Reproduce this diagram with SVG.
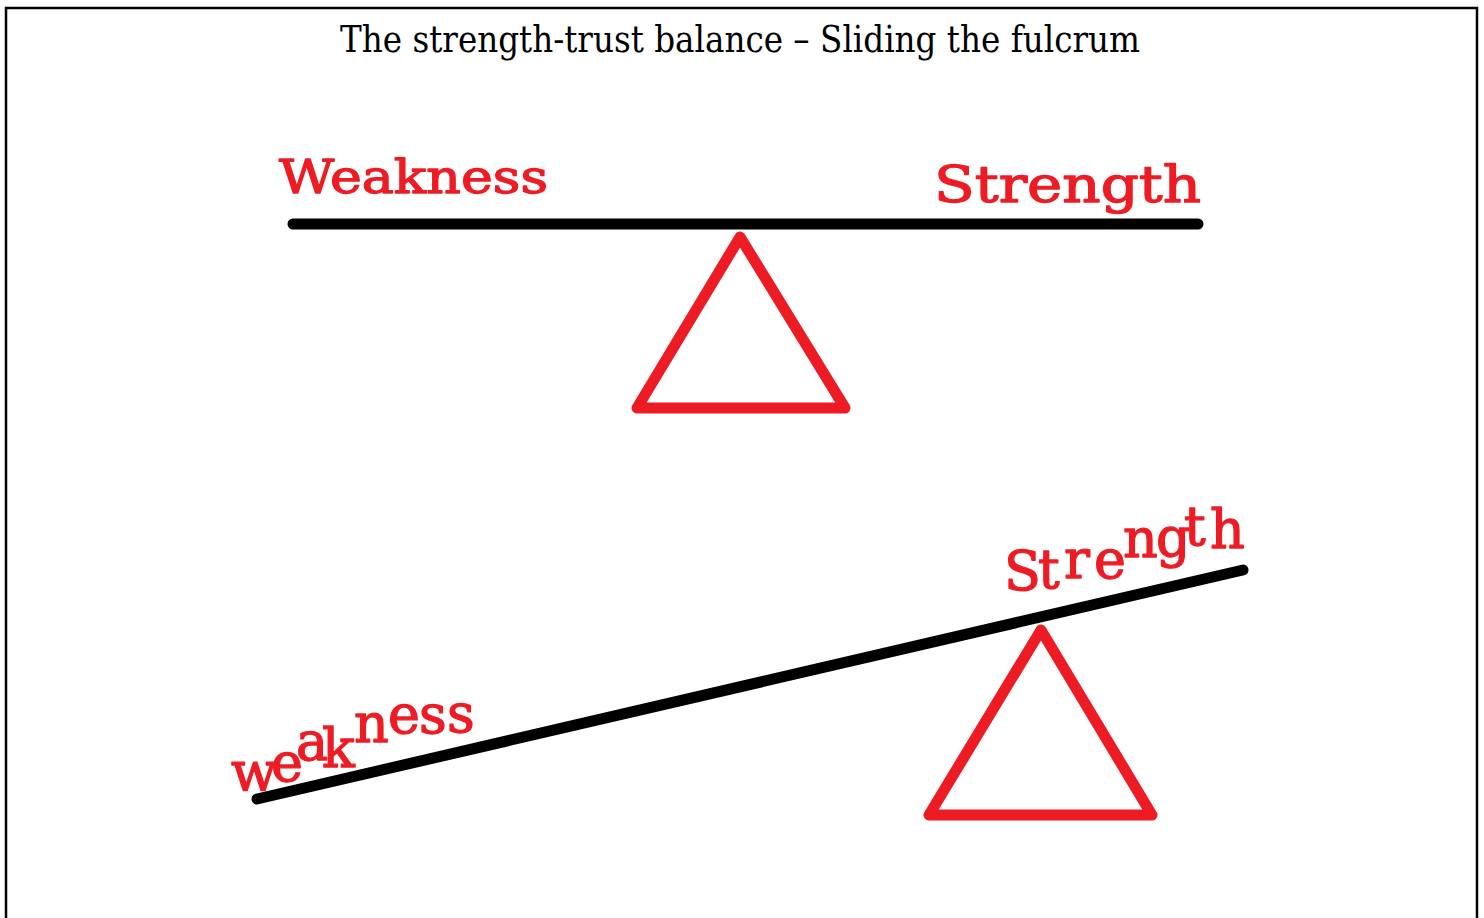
<svg xmlns="http://www.w3.org/2000/svg" width="1484" height="918" viewBox="0 0 1484 918">
<style>
.title{font-family:"DejaVu Serif","Liberation Serif",serif;font-size:37px;fill:#000}
.lbl{font-family:"DejaVu Serif","Liberation Serif",serif;fill:#ed1c24;stroke:#ed1c24;stroke-width:1.3;stroke-linejoin:round}
.beam{stroke:#000;stroke-width:11;stroke-linecap:round;fill:none}
.fulcrum{stroke:#ed1c24;stroke-width:11;stroke-linejoin:round;fill:none}
</style>
<rect x="0" y="0" width="1484" height="918" fill="#fff"/>
<rect x="6" y="8" width="1471" height="930" fill="none" stroke="#000" stroke-width="2.5"/>
<text class="title" x="740" y="52" text-anchor="middle" textLength="800" lengthAdjust="spacingAndGlyphs">The strength-trust balance – Sliding the fulcrum</text>

<g id="connectors">
<line class="beam" x1="293" y1="224" x2="1198" y2="224"/>
<line class="beam" x1="257" y1="799" x2="1243" y2="570"/>
</g>

<g id="fulcrum-top"><polygon class="fulcrum" points="637,408 845,408 740,237"/></g>
<g id="fulcrum-bottom"><polygon class="fulcrum" points="929,815 1152,815 1041,630"/></g>

<g id="label-weakness-top"><text class="lbl" x="279" y="193" font-size="46" textLength="269" lengthAdjust="spacingAndGlyphs">Weakness</text></g>
<g id="label-strength-top"><text class="lbl" x="934" y="202" font-size="50" textLength="267" lengthAdjust="spacingAndGlyphs">Strength</text></g>

<g id="label-weakness-bottom">
<text class="lbl" font-size="54"><tspan x="231" y="790">w</tspan><tspan x="271" y="781">e</tspan><tspan x="296" y="760">a</tspan><tspan x="322" y="767">k</tspan><tspan x="354" y="742">n</tspan><tspan x="388" y="733">e</tspan><tspan x="419" y="733">s</tspan><tspan x="447" y="732">s</tspan></text>
</g>
<g id="label-strength-bottom">
<text class="lbl" font-size="54"><tspan x="1004" y="590">S</tspan><tspan x="1038" y="588">t</tspan><tspan x="1064" y="578">r</tspan><tspan x="1094" y="578">e</tspan><tspan x="1123" y="557">n</tspan><tspan x="1156" y="556">g</tspan><tspan x="1184" y="545">t</tspan><tspan x="1210" y="548">h</tspan></text>
</g>
</svg>
